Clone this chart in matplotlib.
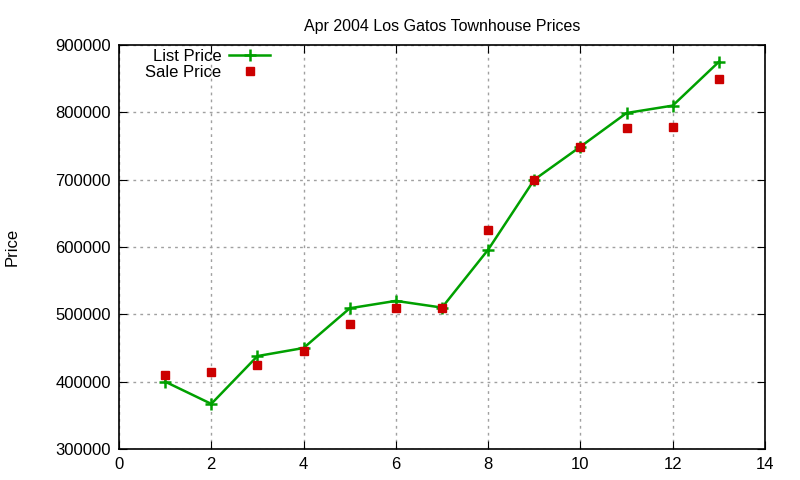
import matplotlib
matplotlib.use('Agg')
import matplotlib.pyplot as plt

plt.rcParams['font.family'] = ['Liberation Sans', 'DejaVu Sans']

# house index vs prices
idx = [1, 2, 3, 4, 5, 6, 7, 8, 9, 10, 11, 12, 13]
list_price = [400000, 367000, 438000, 450000, 509000, 520000, 510000,
              596000, 700000, 749000, 799000, 810000, 875000]
sale_price = [410000, 415000, 425000, 446000, 485000, 510000, 510000,
              625000, 700000, 749000, 776000, 778000, 850000]

fig = plt.figure(figsize=(8, 4.8), dpi=100)
ax = fig.add_axes([119 / 800, 1 - 449 / 480, (765 - 119) / 800, (449 - 45) / 480])

ax.plot(idx, list_price, color='#00a000', lw=1.8, marker='+', ms=8, mew=1.8,
        label='List Price', zorder=2)
ax.plot(idx, sale_price, ls='none', marker='s', ms=6, color='#cc0000',
        label='Sale Price', zorder=3)

ax.set_xlim(0, 14)
ax.set_ylim(300000, 900000)
ax.set_xticks(range(0, 15, 2))
ax.set_yticks(range(300000, 900001, 100000))
ax.ticklabel_format(style='plain', axis='y')
ax.grid(True, ls=(0, (2, 3)), color='#a0a0a0', lw=1)
ax.tick_params(direction='in', top=True, right=True, labelsize=12, length=6,
               pad=6)
for s in ax.spines.values():
    s.set_linewidth(1.2)

ax.set_title('Apr 2004 Los Gatos Townhouse Prices', fontsize=11.5, pad=10)
fig.text(12 / 800, 1 - 247 / 480, 'Price', rotation=90, fontsize=12,
         ha='center', va='center')

ax.legend(loc='upper left', markerfirst=False, frameon=False, fontsize=12,
          handlelength=2.5, handletextpad=0.45, labelspacing=0.1,
          borderaxespad=0.2, bbox_to_anchor=(0.025, 1.016))

fig.savefig('out.png', dpi=100)
